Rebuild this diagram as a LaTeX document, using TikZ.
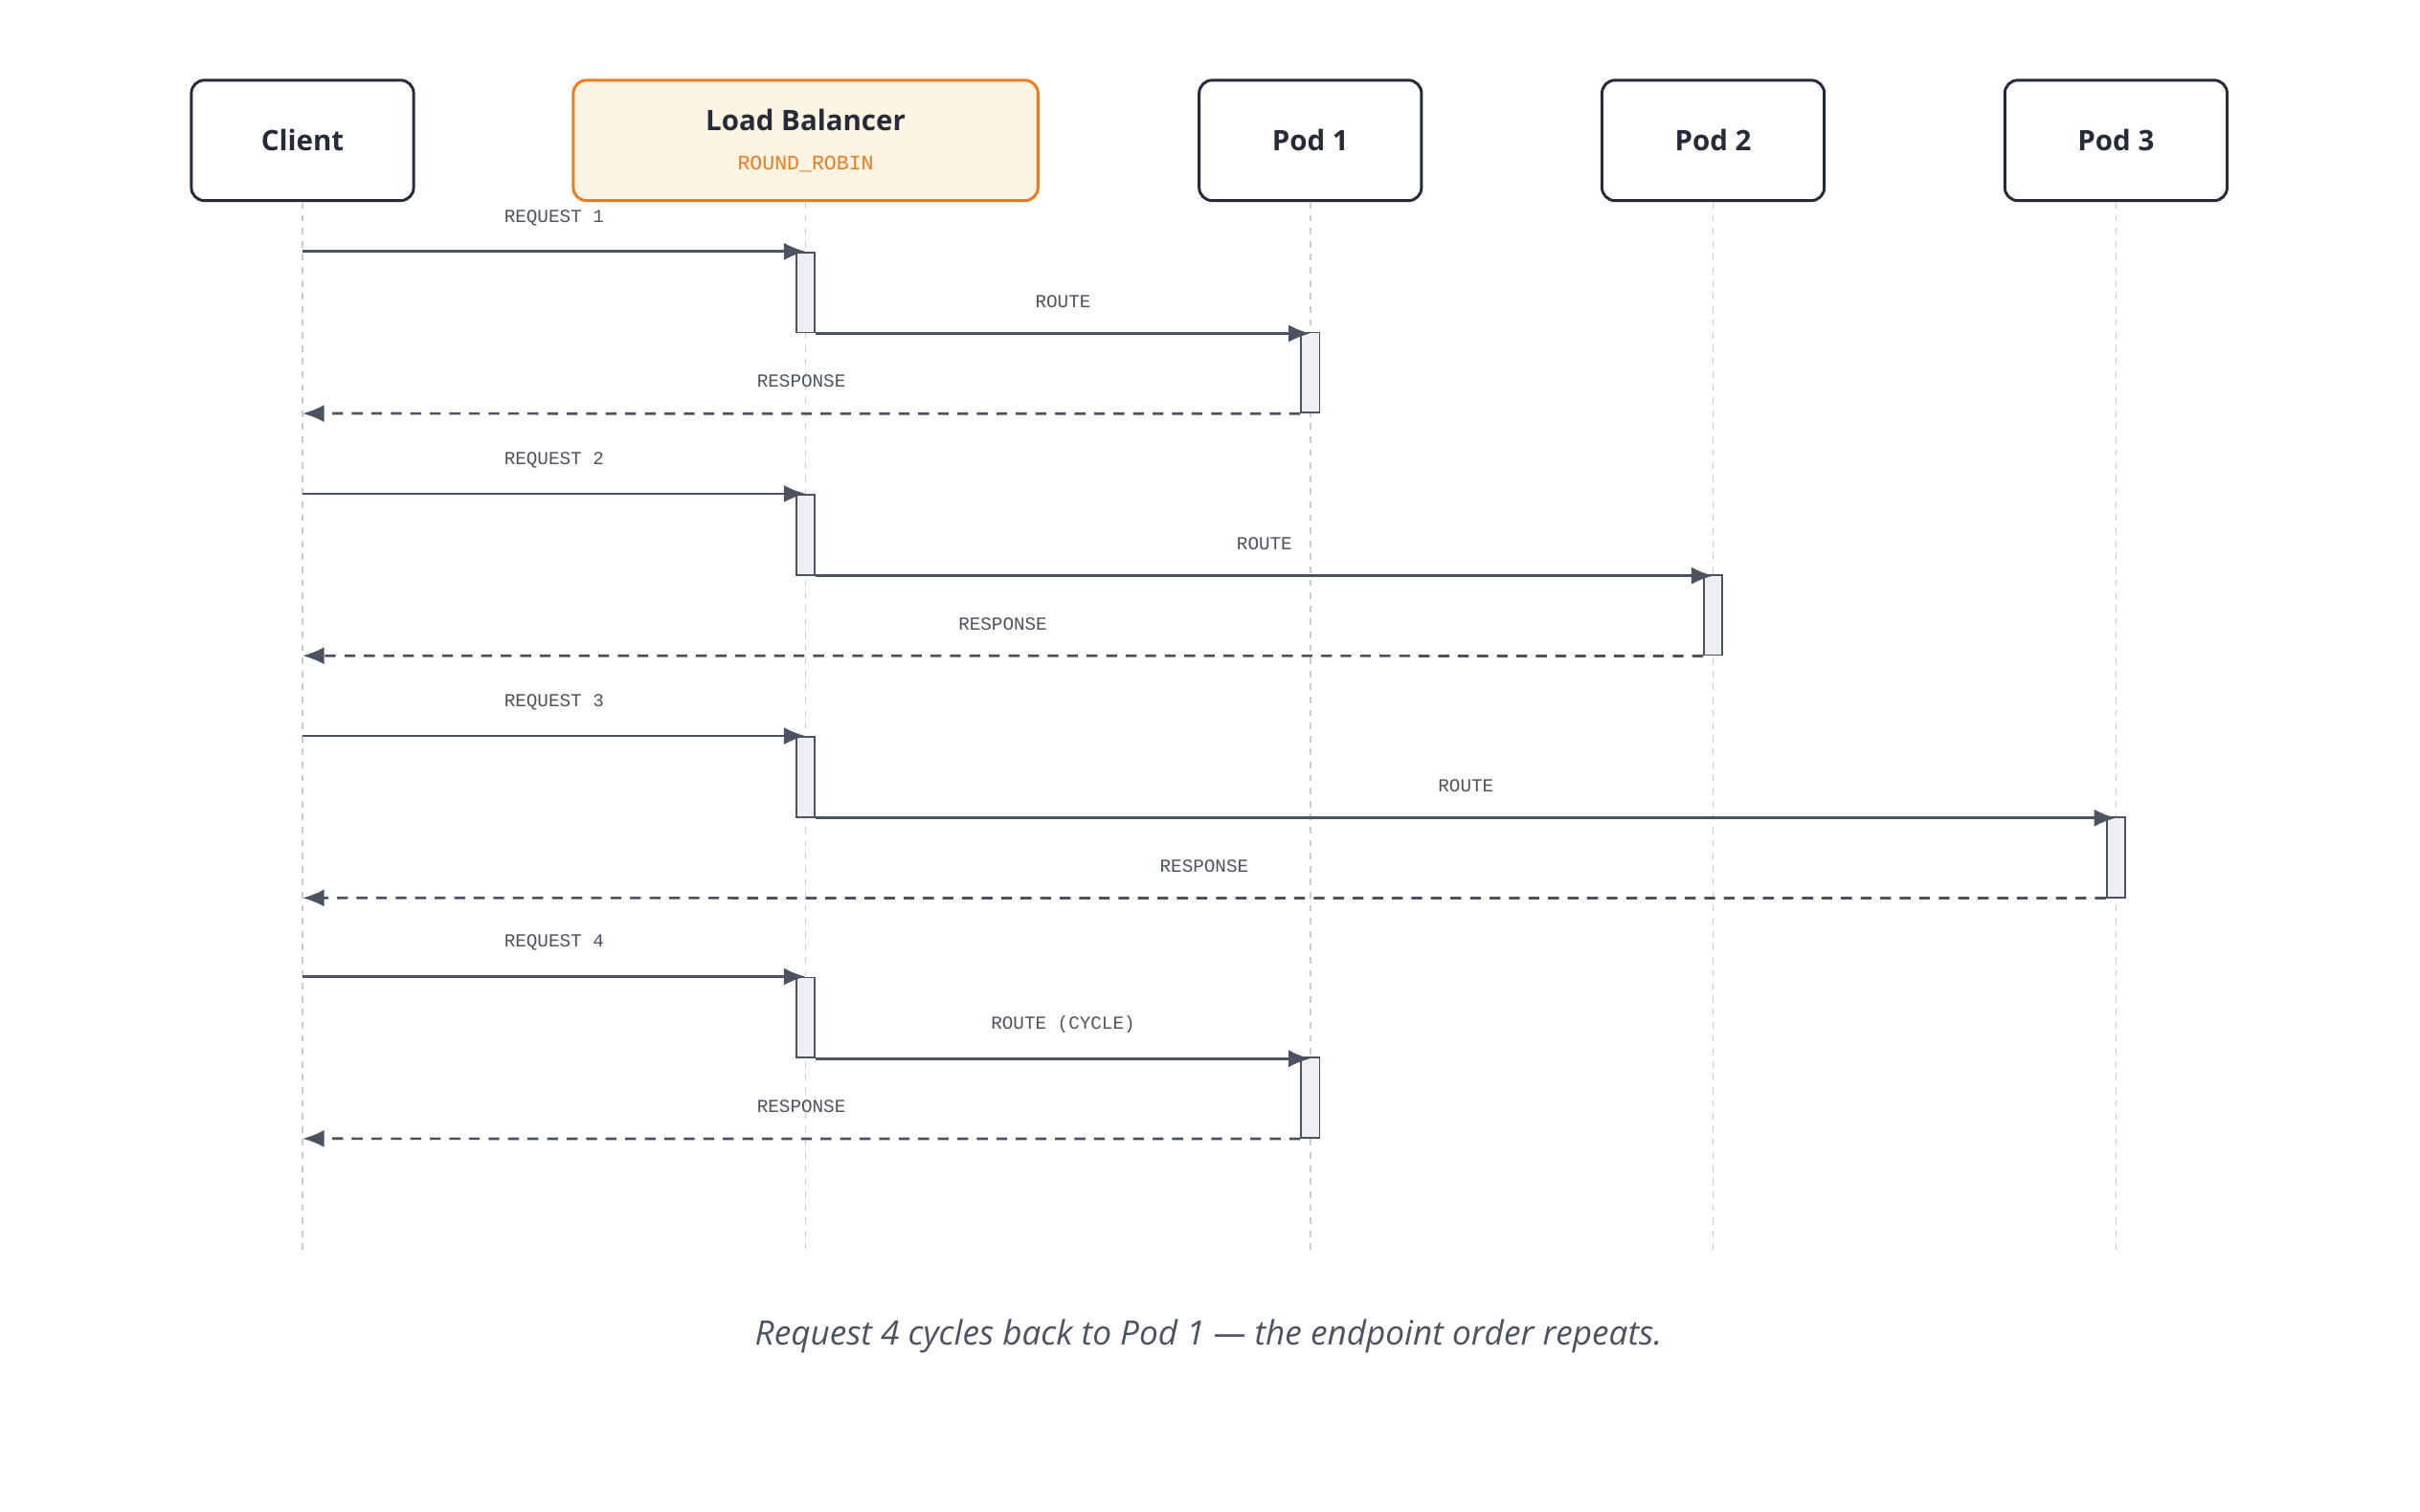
\documentclass[tikz,border=0pt]{standalone}
\usepackage{fontspec}
\setmainfont{Open Sans}
\newfontfamily\monofont{Liberation Mono}
\usetikzlibrary{arrows.meta, positioning}
\definecolor{ink}{HTML}{252B38}
\definecolor{wire}{HTML}{4B5260}
\definecolor{life}{HTML}{C8CBD0}
\definecolor{lborange}{HTML}{EE7A1E}
\definecolor{lbfill}{HTML}{FEF4E3}
\definecolor{actfill}{HTML}{EEEFF2}

\begin{document}
\begin{tikzpicture}[
    x=0.025cm, y=-0.025cm,
    actor/.style={draw=ink, line width=1.3pt, rounded corners=6pt, fill=white, minimum width=3.6cm, minimum height=1.95cm, align=center, font=\bfseries\fontsize{13}{15}\selectfont, text=ink},
    lifeline/.style={draw=life, dashed, line width=0.7pt},
    act/.style={draw=wire, fill=actfill, line width=0.8pt, minimum width=0.3cm, minimum height=1.3cm, inner sep=0pt},
    msg/.style={-{Latex[length=10pt,width=8pt]}, draw=wire, line width=1.2pt},
    reply/.style={msg, dashed, dash pattern=on 5pt off 4pt},
    lbl/.style={font=\monofont\fontsize{8.5}{10}\selectfont, text=wire}
]
\useasboundingbox (0,0) rectangle (1568,980);

% Teilnehmer
\node[actor] (client) at (196,91) {Client};
\node[actor, draw=lborange, fill=lbfill, minimum width=7.525cm] (lb) at (522,91) {Load Balancer\\[3pt]{\monofont\mdseries\fontsize{9.5}{11}\selectfont\color{lborange}ROUND\_ROBIN}};
\node[actor] (pod1) at (849,91) {Pod 1};
\node[actor] (pod2) at (1110,91) {Pod 2};
\node[actor] (pod3) at (1371,91) {Pod 3};

% Lebenslinien
\foreach \p in {client,lb,pod1,pod2,pod3}
  \draw[lifeline] (\p.south) -- (\p.south |- 0,810);

% Runden
\foreach \i/\pod/\route/\y in {1/pod1/ROUTE/163, 2/pod2/ROUTE/320, 3/pod3/ROUTE/477, 4/pod1/ROUTE (CYCLE)/633} {
  \node[act, anchor=north] (lbact\i) at (lb.south |- 0,\y) {};
  \node[act, anchor=north] (podact\i) at (\pod.south |- 0,\y+52) {};
  \coordinate (src\i) at (client.south |- 0,\y);
  \coordinate (dst\i) at (client.south |- 0,\y+105);
  \draw[msg] (src\i) -- node[lbl, above=8pt] {REQUEST \i} (lbact\i.north);
  \draw[msg] (lbact\i.south east) -- node[lbl, above=8pt] {\route} (lbact\i.south east -| podact\i.north);
  \draw[reply] (podact\i.south west) -- node[lbl, above=8pt] {RESPONSE} (dst\i);
}

% Fussnote
\node[font=\itshape\fontsize{15.5}{18}\selectfont, text=wire] (note) at (783,866) {Request 4 cycles back to Pod 1 — the endpoint order repeats.};

\end{tikzpicture}
\end{document}
